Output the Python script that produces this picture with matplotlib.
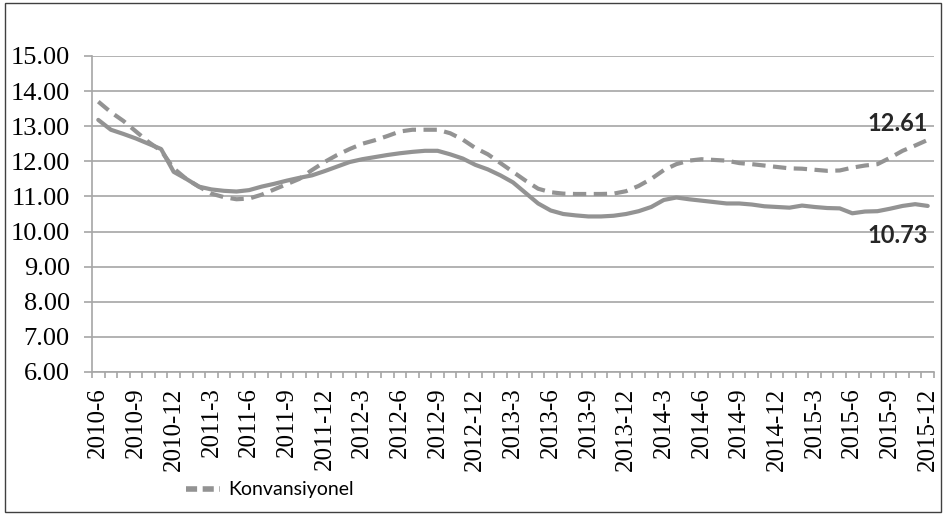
import numpy as np
import matplotlib.pyplot as plt
from matplotlib.lines import Line2D
from matplotlib.patches import Rectangle

# aylık seriler 2010-6 .. 2015-12
konvansiyonel = [13.70, 13.40, 13.15, 12.85, 12.55, 12.30, 11.80, 11.50, 11.28, 11.08,
                 10.98, 10.92, 10.94, 11.05, 11.20, 11.35, 11.50, 11.75, 11.98, 12.18,
                 12.35, 12.50, 12.60, 12.72, 12.85, 12.90, 12.90, 12.90, 12.80, 12.62,
                 12.38, 12.20, 11.95, 11.70, 11.45, 11.22, 11.12, 11.08, 11.07, 11.07,
                 11.07, 11.08, 11.15, 11.30, 11.50, 11.75, 11.92, 12.02, 12.06, 12.04,
                 12.02, 11.95, 11.92, 11.88, 11.84, 11.80, 11.79, 11.76, 11.73, 11.74,
                 11.82, 11.88, 11.92, 12.10, 12.30, 12.45, 12.61]
diger = [13.18, 12.90, 12.78, 12.65, 12.50, 12.35, 11.70, 11.50, 11.28, 11.20,
         11.16, 11.14, 11.18, 11.28, 11.36, 11.45, 11.53, 11.60, 11.72, 11.85,
         11.98, 12.06, 12.12, 12.18, 12.23, 12.27, 12.30, 12.30, 12.20, 12.08,
         11.90, 11.77, 11.60, 11.40, 11.10, 10.80, 10.60, 10.50, 10.46, 10.43,
         10.43, 10.45, 10.50, 10.58, 10.70, 10.90, 10.97, 10.92, 10.88, 10.84,
         10.80, 10.80, 10.77, 10.72, 10.70, 10.68, 10.74, 10.70, 10.67, 10.66,
         10.52, 10.57, 10.58, 10.65, 10.73, 10.78, 10.73]
tick_labels = ['2010-6', '2010-9', '2010-12', '2011-3', '2011-6', '2011-9', '2011-12',
               '2012-3', '2012-6', '2012-9', '2012-12', '2013-3', '2013-6', '2013-9',
               '2013-12', '2014-3', '2014-6', '2014-9', '2014-12', '2015-3', '2015-6',
               '2015-9', '2015-12']
yticks = [6, 7, 8, 9, 10, 11, 12, 13, 14, 15]

gray = '#939393'
grid_gray = '#a6a6a6'

fig = plt.figure(figsize=(9.44, 5.15), dpi=100)
ax = fig.add_axes([92/944, 1-372/515, (934-92)/944, (372-56)/515])

x = np.arange(len(konvansiyonel))
ax.plot(x, diger, color=gray, lw=3.0, solid_capstyle='round', zorder=3)
ax.plot(x, konvansiyonel, color=gray, lw=3.0, dashes=(3.2, 1.8), zorder=4)

ax.set_xlim(-0.5, len(x) - 0.5)
ax.set_ylim(6, 15)
ax.set_yticks(yticks)
ax.set_yticklabels([f'{v:.2f}' for v in yticks], family='Liberation Serif', fontsize=19)
ax.set_xticks(x[::3])
ax.set_xticklabels(tick_labels, rotation=90, family='Liberation Serif', fontsize=18)
ax.set_xticks(np.arange(-0.5, len(x)), minor=True)
ax.tick_params(axis='x', which='major', length=0, pad=11)
ax.tick_params(axis='x', which='minor', length=4, color=grid_gray, width=1.2)
ax.tick_params(axis='y', length=6, color=grid_gray, width=1.2, pad=10)

ax.grid(axis='y', color=grid_gray, lw=1.2)
ax.set_axisbelow(True)
for s in ['top', 'right']:
    ax.spines[s].set_visible(False)
for s in ['left', 'bottom']:
    ax.spines[s].set_color(grid_gray)
    ax.spines[s].set_linewidth(1.2)

ax.text(len(x) - 1, konvansiyonel[-1] + 0.46, f'{konvansiyonel[-1]:.2f}', ha='right', va='center',
        family='Lato', fontweight='bold', fontsize=17, color='#262626')
ax.text(len(x) - 1, diger[-1] - 0.85, f'{diger[-1]:.2f}', ha='right', va='center',
        family='Lato', fontweight='bold', fontsize=17, color='#262626')

handle = Line2D([], [], color=gray, lw=4.0, dashes=(2.0, 1.0))
fig.legend([handle], ['Konvansiyonel'], loc='center', bbox_to_anchor=(270/944, 1-490/515),
           frameon=False, handlelength=1.75, handletextpad=0.4,
           prop={'family': ['Liberation Sans Narrow', 'Lato'], 'size': 14})

fig.patches.append(Rectangle((5/944, 3/515), 936/944, 509/515, transform=fig.transFigure,
                             fill=False, edgecolor='#404040', lw=1.0))

fig.savefig('out.png', dpi=100)
